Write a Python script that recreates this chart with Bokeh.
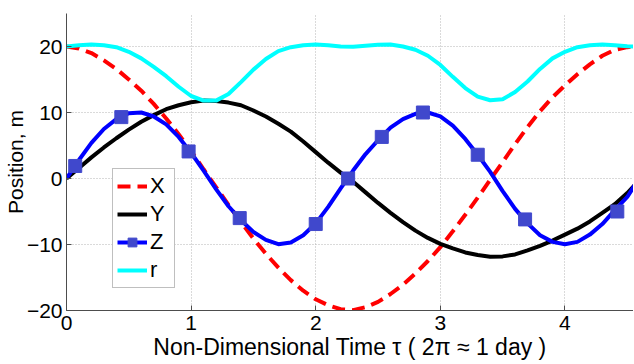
from bokeh.plotting import figure
from bokeh.models import Range1d, FixedTicker
from bokeh.embed import file_html
from bokeh.resources import INLINE

# --- data ---
tau = [0.0, 0.1, 0.2, 0.3, 0.4, 0.5, 0.6, 0.7, 0.8, 0.9,
       1.0, 1.1, 1.2, 1.3, 1.4, 1.5, 1.6, 1.7, 1.8, 1.9,
       2.0, 2.1, 2.2, 2.3, 2.4, 2.5, 2.6, 2.7, 2.8, 2.9,
       3.0, 3.1, 3.2, 3.3, 3.4, 3.5, 3.6, 3.7, 3.8, 3.9,
       4.0, 4.1, 4.2, 4.3, 4.4, 4.5, 4.56]
X = [20.0, 19.7, 19.0, 17.9, 16.6, 15.0, 13.3, 11.3, 9.1, 6.7,
     4.2, 1.4, -1.3, -4.0, -6.6, -9.1, -11.4, -13.5, -15.4, -17.0,
     -18.3, -19.2, -19.8, -19.95, -19.5, -18.7, -17.5, -16.1, -14.4, -12.5,
     -10.4, -8.0, -5.5, -2.9, -0.2, 2.5, 5.2, 7.8, 10.2, 12.3,
     14.1, 15.8, 17.3, 18.6, 19.5, 19.9, 20.0]
Y = [0.0, 1.6, 3.2, 4.7, 6.1, 7.4, 8.6, 9.6, 10.5, 11.1,
     11.55, 11.8, 11.75, 11.5, 11.1, 10.3, 9.4, 8.3, 7.1, 5.6,
     4.0, 2.4, 0.9, -0.5, -2.1, -3.7, -5.2, -6.6, -7.9, -9.0,
     -9.9, -10.6, -11.2, -11.6, -11.85, -11.8, -11.5, -10.9, -10.2, -9.4,
     -8.5, -7.6, -6.5, -5.2, -3.9, -2.2, -1.0]
Z = [0.0, 2.8, 5.4, 7.5, 9.0, 9.9, 10.0, 9.4, 8.2, 6.3,
     3.9, 1.2, -1.6, -4.2, -6.3, -8.1, -9.3, -9.95, -9.7, -8.6,
     -6.8, -4.3, -1.5, 1.2, 3.7, 5.8, 7.7, 9.0, 9.8, 10.0,
     9.4, 8.0, 6.0, 3.6, 1.0, -1.9, -4.6, -6.8, -8.6, -9.6,
     -9.95, -9.6, -8.5, -6.9, -4.8, -2.8, -1.0]
R = [20.0, 20.2, 20.3, 20.2, 19.9, 19.2, 18.2, 16.9, 15.5, 13.9,
     12.5, 11.8, 11.8, 12.8, 14.6, 16.5, 18.1, 19.3, 19.9, 20.2,
     20.3, 20.2, 20.0, 19.95, 20.1, 20.25, 20.3, 20.0, 19.5, 18.6,
     17.2, 15.4, 13.7, 12.4, 11.85, 12.0, 13.1, 14.7, 16.6, 18.2,
     19.2, 19.9, 20.2, 20.3, 20.2, 20.05, 20.0]
z_mark_tau = [0.07, 0.44, 0.98, 1.39, 2.0, 2.26, 2.53, 2.86, 3.30, 3.68, 4.42]
z_mark_val = [1.9, 9.3, 4.1, -6.0, -6.9, 0.0, 6.3, 10.0, 3.6, -6.2, -5.0]
x_ticks = [0, 1, 2, 3, 4]
y_ticks = [-20, -10, 0, 10, 20]

FONT = "Liberation Sans"

p = figure(frame_width=567, frame_height=297, output_backend="svg",
           toolbar_location=None, x_range=Range1d(0, 4.55), y_range=Range1d(-20, 25),
           min_border_left=59, min_border_right=0, min_border_top=13, min_border_bottom=0)
p.outline_line_color = None
p.background_fill_color = "white"

for ax in (p.xaxis[0], p.yaxis[0]):
    ax.axis_line_color = "#4d4d4d"
    ax.major_tick_line_color = "#4d4d4d"
    ax.major_tick_in = 5
    ax.major_tick_out = 0
    ax.minor_tick_line_color = None
    ax.major_label_text_font = FONT
    ax.major_label_text_font_size = "21px"
    ax.major_label_text_color = "black"
    ax.axis_label_text_font = FONT
    ax.axis_label_text_font_style = "normal"
    ax.axis_label_text_color = "black"

p.xaxis.ticker = FixedTicker(ticks=x_ticks)
p.yaxis.ticker = FixedTicker(ticks=y_ticks)
p.xaxis.axis_label = "Non-Dimensional Time \u03c4 ( 2\u03c0 \u2248 1 day )"
p.yaxis.axis_label = "Position, m"
p.xaxis.axis_label_text_font_size = "23px"
p.yaxis.axis_label_text_font_size = "21px"
p.xaxis.major_label_standoff = 5
p.yaxis.major_label_standoff = 4
p.xaxis.axis_label_standoff = 1
p.yaxis.axis_label_standoff = -3

for g in (p.xgrid[0], p.ygrid[0]):
    g.grid_line_color = "#b4b4b4"
    g.grid_line_dash = "1 2"
    g.grid_line_width = 1

p.line(tau, X, line_color="#ff0000", line_width=4, line_dash="13 7", legend_label="X")
p.line(tau, Y, line_color="black", line_width=4, legend_label="Y")
p.line(tau, Z, line_color="#0000ff", line_width=4, legend_label="Z")
p.scatter(z_mark_tau, z_mark_val, marker="square", size=13, fill_color="#4048cc",
          line_color="#4048cc", legend_label="Z")
p.line(tau, R, line_color="#00ffff", line_width=4, legend_label="r")

lg = p.legend[0]
lg.location = (46, 22)
lg.border_line_color = "#7f7f7f"
lg.border_line_width = 1
lg.background_fill_alpha = 1
lg.padding = 4
lg.spacing = 2
lg.margin = 0
lg.glyph_width = 30
lg.glyph_height = 22
lg.label_height = 22
lg.label_standoff = 3
lg.label_text_font = FONT
lg.label_text_font_size = "22px"
lg.label_text_color = "black"

open("out.html", "w").write(file_html(p, INLINE))
